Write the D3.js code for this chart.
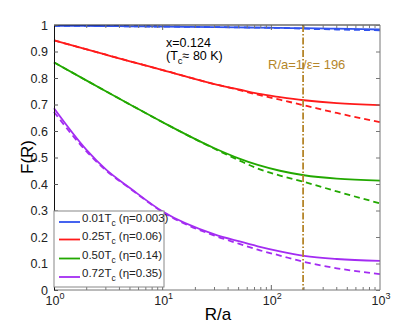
<!DOCTYPE html>
<html>
<head>
<meta charset="utf-8">
<script src="https://cdn.jsdelivr.net/npm/d3@7"></script>
<style>
  body { margin: 0; background: #fff; }
  text { font-family: "Liberation Sans", Arial, sans-serif; }
</style>
</head>
<body>
<script>
// R/a sample points shared by every curve
const rValues = [1, 2, 3, 5, 10, 30, 50, 75, 120, 200, 400, 1000];

// solid curves
const blueSolid   = [0.997, 0.9965, 0.996, 0.995, 0.994, 0.992, 0.991, 0.990, 0.989, 0.988, 0.986, 0.983];
const redSolid    = [0.942, 0.908, 0.888, 0.863, 0.830, 0.777, 0.757, 0.741, 0.728, 0.716, 0.705, 0.698];
const greenSolid  = [0.859, 0.790, 0.750, 0.700, 0.633, 0.535, 0.497, 0.472, 0.450, 0.433, 0.420, 0.413];
const purpleSolid = [0.686, 0.528, 0.455, 0.385, 0.296, 0.210, 0.184, 0.165, 0.146, 0.129, 0.117, 0.110];

// dashed curves
const blueDash   = [0.997, 0.9965, 0.996, 0.995, 0.994, 0.992, 0.991, 0.990, 0.989, 0.986, 0.983, 0.980];
const redDash    = [0.942, 0.908, 0.888, 0.863, 0.830, 0.777, 0.755, 0.737, 0.718, 0.697, 0.668, 0.633];
const greenDash  = [0.859, 0.790, 0.750, 0.700, 0.633, 0.533, 0.490, 0.458, 0.432, 0.408, 0.372, 0.327];
const purpleDash = [0.672, 0.522, 0.452, 0.383, 0.294, 0.205, 0.175, 0.152, 0.130, 0.106, 0.082, 0.060];

const legendMain = ["0.01T", "0.25T", "0.50T", "0.72T"];
const legendEta  = [" (\u03b7=0.003)", " (\u03b7=0.06)", " (\u03b7=0.14)", " (\u03b7=0.35)"];
const colors = ["#3052ee", "#ff1a1a", "#22a800", "#a32cf2"];

const yTicks = [0, 0.1, 0.2, 0.3, 0.4, 0.5, 0.6, 0.7, 0.8, 0.9, 1];
const xMajor = [1, 10, 100, 1000];
const epsR = 196;

const W = 420, H = 327;
const pLeft = 54, pRight = 380, pTop = 25, pBottom = 290;

const svg = d3.select("body").append("svg")
  .attr("width", W)
  .attr("height", H);

const x = d3.scaleLog().domain([1, 1000]).range([pLeft, pRight]);
const y = d3.scaleLinear().domain([0, 1]).range([pBottom, pTop]);

const solids = [blueSolid, redSolid, greenSolid, purpleSolid];
const dashes = [blueDash, redDash, greenDash, purpleDash];

const line = d3.line()
  .x((d, i) => x(rValues[i]))
  .y(d => y(d))
  .curve(d3.curveMonotoneX);

// dashed first, solid on top
dashes.forEach((s, k) => {
  svg.append("path")
    .attr("d", line(s))
    .attr("fill", "none")
    .attr("stroke", colors[k])
    .attr("stroke-width", 1.8)
    .attr("stroke-dasharray", "6,4");
});
solids.forEach((s, k) => {
  svg.append("path")
    .attr("d", line(s))
    .attr("fill", "none")
    .attr("stroke", colors[k])
    .attr("stroke-width", 1.8);
});

// 1/epsilon marker
svg.append("line")
  .attr("x1", x(epsR)).attr("x2", x(epsR))
  .attr("y1", pTop).attr("y2", pBottom)
  .attr("stroke", "#b5862a")
  .attr("stroke-width", 1.8)
  .attr("stroke-dasharray", "7,2,1.5,2");

svg.append("text")
  .attr("x", 268).attr("y", 69)
  .attr("font-size", 13)
  .attr("fill", "#b5862a")
  .text("R/a=1/\u03b5= 196");

// x = 0.124 note
svg.append("text")
  .attr("x", 166).attr("y", 47)
  .attr("font-size", 12.5)
  .text("x=0.124");
const tc = svg.append("text")
  .attr("x", 166).attr("y", 60)
  .attr("font-size", 12.5);
tc.append("tspan").text("(T");
tc.append("tspan").attr("dy", 4).attr("font-size", 9.5).text("c");
tc.append("tspan").attr("dy", -4).text("\u2248 80 K)");

// axes frame
svg.append("line").attr("x1", pLeft).attr("x2", pRight).attr("y1", pTop).attr("y2", pTop)
  .attr("stroke", "#222").attr("stroke-width", 1);
svg.append("line").attr("x1", pRight).attr("x2", pRight).attr("y1", pTop).attr("y2", pBottom)
  .attr("stroke", "#777").attr("stroke-width", 1);
svg.append("line").attr("x1", pLeft).attr("x2", pRight).attr("y1", pBottom).attr("y2", pBottom)
  .attr("stroke", "#777").attr("stroke-width", 1);

// y ticks, inward on both sides
const yAxisL = d3.axisLeft(y).tickValues(yTicks).tickSizeInner(-4).tickSizeOuter(0)
  .tickPadding(6).tickFormat(d3.format("~g"));
const gy = svg.append("g").attr("transform", `translate(${pLeft},0)`).call(yAxisL);
gy.select(".domain").attr("stroke", "#111");
gy.selectAll(".tick line").attr("stroke", "#555");
gy.selectAll(".tick text").attr("font-size", 12.5).attr("fill", "#222")
  .attr("font-family", "Liberation Sans, Arial, sans-serif");

const gyr = svg.append("g").attr("transform", `translate(${pRight},0)`)
  .call(d3.axisRight(y).tickValues(yTicks).tickSizeInner(-4).tickSizeOuter(0).tickFormat(""));
gyr.select(".domain").remove();
gyr.selectAll(".tick line").attr("stroke", "#777");

// x ticks (log, major + minor), inward on bottom and top
const minor = [];
[1, 10, 100].forEach(b => { for (let m = 2; m <= 9; m++) minor.push(b * m); });
[[pBottom, -1], [pTop, 1]].forEach(([yy, dir]) => {
  svg.selectAll(null).data(xMajor.slice(1, 3)).enter().append("line")
    .attr("x1", d => x(d)).attr("x2", d => x(d))
    .attr("y1", yy).attr("y2", yy + dir * 5)
    .attr("stroke", "#666");
  svg.selectAll(null).data(minor).enter().append("line")
    .attr("x1", d => x(d)).attr("x2", d => x(d))
    .attr("y1", yy).attr("y2", yy + dir * 3)
    .attr("stroke", "#777");
});

const xl = svg.selectAll(".xl").data(xMajor).enter().append("text")
  .attr("class", "xl")
  .attr("x", d => x(d) + 1)
  .attr("y", 305)
  .attr("text-anchor", "middle")
  .attr("font-size", 12.5)
  .attr("fill", "#222");
xl.append("tspan").text("10");
xl.append("tspan").attr("dy", -6).attr("font-size", 9).text(d => Math.round(Math.log10(d)));

// axis titles
svg.append("text")
  .attr("x", 218).attr("y", 320)
  .attr("text-anchor", "middle")
  .attr("font-size", 17)
  .text("R/a");
svg.append("text")
  .attr("transform", "translate(33,157) rotate(-90)")
  .attr("text-anchor", "middle")
  .attr("font-size", 17)
  .text("F(R)");

// legend
const lg = svg.append("g");
lg.append("rect")
  .attr("x", pLeft).attr("y", 211)
  .attr("width", 110).attr("height", 76)
  .attr("fill", "#fff")
  .attr("stroke", "#888")
  .attr("stroke-width", 1);
const rowY = [222, 239.5, 258.5, 277];
legendMain.forEach((t, k) => {
  lg.append("line")
    .attr("x1", 59).attr("x2", 80)
    .attr("y1", rowY[k]).attr("y2", rowY[k])
    .attr("stroke", colors[k]).attr("stroke-width", 1.8);
  const tx = lg.append("text")
    .attr("x", 82).attr("y", rowY[k])
    .attr("font-size", 11.5)
    .attr("fill", "#222");
  tx.append("tspan").text(t);
  tx.append("tspan").attr("dy", 4).attr("font-size", 8.5).text("c");
  tx.append("tspan").attr("dy", -4).text(legendEta[k]);
});
</script>
</body>
</html>
